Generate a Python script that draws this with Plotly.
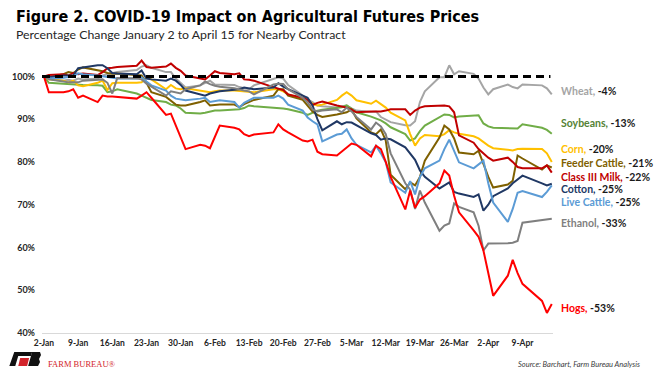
import plotly.graph_objects as go

# ---------------- data ----------------
dates = [
    "2020-01-02", "2020-01-03", "2020-01-06", "2020-01-07", "2020-01-08", "2020-01-09", "2020-01-10",
    "2020-01-13", "2020-01-14", "2020-01-15", "2020-01-16", "2020-01-17", "2020-01-21", "2020-01-22",
    "2020-01-23", "2020-01-24", "2020-01-27", "2020-01-28", "2020-01-29", "2020-01-30", "2020-01-31",
    "2020-02-03", "2020-02-04", "2020-02-05", "2020-02-06", "2020-02-07", "2020-02-10", "2020-02-11",
    "2020-02-12", "2020-02-13", "2020-02-14", "2020-02-18", "2020-02-19", "2020-02-20", "2020-02-21",
    "2020-02-24", "2020-02-25", "2020-02-26", "2020-02-27", "2020-02-28",
    "2020-03-02", "2020-03-03", "2020-03-04", "2020-03-05", "2020-03-06", "2020-03-09", "2020-03-10",
    "2020-03-11", "2020-03-12", "2020-03-13", "2020-03-16", "2020-03-17", "2020-03-18", "2020-03-19",
    "2020-03-20", "2020-03-23", "2020-03-24", "2020-03-25", "2020-03-26", "2020-03-27", "2020-03-30",
    "2020-03-31",
    "2020-04-01", "2020-04-02", "2020-04-03", "2020-04-06", "2020-04-07", "2020-04-08", "2020-04-09",
    "2020-04-13", "2020-04-14", "2020-04-15",
]

wheat = [100, 99.5, 99, 99.2, 99, 99.5, 99.3, 99.5, 100.2, 100.5, 100.8, 101, 101.5, 102.3, 102.6, 102, 101, 101, 99.5, 98.5, 97.4,
         97.9, 98.5, 99, 98.1, 98.1, 98, 97.5, 97.2, 97, 97.9, 99.3, 99.8, 99.5, 98, 95.5, 94.6, 94, 93.2, 93,
         92.7, 93, 93.2, 92.5, 92, 91.7, 91.8, 90.5, 89.8, 89.3, 88.6, 88.5, 89.5, 94, 96.5, 99.8, 99.8, 102.6, 100.5, 101.2, 100.6, 99.5,
         97.4, 95.8, 97, 98.1, 97.5, 97.2, 98.1, 97.9, 97.2, 95.8]

soybeans = [100, 98.5, 98.3, 98.2, 98.1, 98.1, 98, 97.9, 97.8, 96.3, 96.5, 97, 96, 95.5, 95, 94.5, 94, 93.4, 93.2, 92.5, 91.5,
            91.3, 91.5, 91.8, 92, 92, 92.2, 92.3, 92.6, 93.2, 93, 92.7, 92.7, 92.5, 92.3, 91.5, 91, 91.5, 92, 92.2,
            92.7, 92.8, 93.2, 92.5, 91.6, 90.6, 90.2, 89.7, 89, 88.1, 86.5, 85, 85.5, 87.2, 88.5, 90.4, 91.1, 91, 90.4, 90.6, 90.9, 90.9,
            89, 88.3, 88, 87.9, 87.8, 87.8, 88.8, 88, 87.5, 86.6]

corn = [100, 99.3, 99, 98.6, 99, 97.9, 97.7, 98.5, 99, 96.8, 98.4, 98.5, 98.5, 98.6, 99.8, 99.3, 97, 98, 97.2, 97, 97.2,
        96.7, 96.5, 96.3, 96.5, 96.7, 96.7, 96.6, 96.5, 96.4, 96.3, 97, 97, 96.5, 95.8, 94.8, 94.5, 93.6, 93.2, 93.4,
        94.5, 95.5, 96.3, 95.5, 94.4, 93.6, 94.3, 93.5, 92.7, 91.5, 89.7, 86.5, 83.8, 85.5, 86.3, 86, 86.5, 87.4, 86.9, 86.6, 86, 85.5,
        84.6, 83.8, 83.2, 82.7, 82.7, 83, 83.1, 83, 82, 80]

feeder_cattle = [100, 99.8, 100.5, 101, 100.8, 101.6, 102.1, 101.5, 101.2, 100.8, 100.6, 100.7, 100.2, 100.2, 98.5, 96.3, 95.2, 94.2, 93.4, 93.2, 93.2,
                 94, 94.4, 93.2, 93.3, 93.4, 93.4, 92.8, 93.5, 94, 94.5, 95.5, 97, 97, 95.5, 94.5, 93.2, 91.8, 91, 90.5,
                 91.1, 91.4, 91.6, 92.3, 90.2, 86.9, 86.5, 87.6, 85, 77, 73.6, 75.2, 74.5, 76.5, 80.3, 85.7, 88.5, 87.6, 85.5, 82.2, 81.8, 82.6,
                 79.5, 76.5, 74, 74.7, 75.6, 81.5, 80.8, 78.2, 79.2, 78.7]

class3_milk = [100, 100.3, 100.5, 100.2, 100.8, 100.5, 100.7, 100.3, 101, 101.9, 102, 102.2, 102.5, 103.7, 102.2, 102, 102.3, 103, 102, 101.3, 100.2,
               99.5, 99.3, 100.2, 101.2, 100.8, 100.5, 100.7, 99.3, 99.2, 99, 97.5, 97.2, 96.8, 95.8, 95, 94.5, 93.3, 93.8, 94.1,
               93.2, 93, 92.7, 92.2, 91.6, 91.8, 91.8, 91.8, 92, 92.3, 92.3, 91, 92, 92.7, 93, 93.2, 93.2, 93, 91.6, 86.2, 84.5, 83,
               82, 81, 80.3, 81, 80, 78.8, 78.5, 78.5, 79.2, 77.5]

cotton = [100, 99.8, 100.2, 100.2, 100.2, 101.9, 102.1, 102.6, 102.6, 101.9, 100.8, 100.7, 100.5, 101.4, 99.5, 99.3, 99, 99.5, 99, 98, 96.7,
          95.8, 95.5, 96, 96.3, 96.5, 96.9, 97, 97.4, 97.2, 97, 97.4, 98.4, 97.6, 97, 95.5, 95, 93.2, 90, 87.4,
          89.5, 88.8, 89.3, 89.2, 88.6, 86.7, 86.3, 85.2, 85.5, 85.3, 83.4, 82, 80.5, 78, 76.5, 73.8, 74.5, 75.2, 73, 72.6, 71.8, 72.4,
          68.6, 70, 72, 73.8, 75, 75.8, 76.8, 75, 74.5, 74.9]

live_cattle = [100, 99.5, 99.7, 99.8, 100, 100.7, 100.5, 100.2, 100, 99.8, 99.6, 99.5, 99.5, 99.8, 98.8, 97.9, 96.7, 95.5, 94.8, 94.6, 94.4,
               94.8, 95, 94, 94.2, 94.4, 94, 92.7, 93.8, 94.4, 95, 95, 95.5, 94.8, 93.4, 92, 90.4, 89.5, 88.8, 84.8,
               86.4, 86.6, 87.6, 85.5, 84, 82.2, 83.8, 82, 79.9, 75.2, 72.8, 75.5, 72.4, 76.5, 78.5, 80.3, 83, 85.2, 82.5, 79.9, 78.5, 79.5,
               80.3, 75, 70.5, 66, 69, 72.8, 73.2, 71.8, 73, 74.5]

ethanol = [100, 99.3, 98.8, 98.6, 98.6, 98.6, 99, 99.3, 99.3, 98.5, 96, 99.6, 99.5, 99.3, 98.3, 97.6, 95.5, 96.5, 96.3, 96, 97,
           97.9, 98.8, 98.2, 97.8, 97.6, 97.2, 96.9, 96.7, 96.5, 95.8, 98.1, 98.3, 98.2, 97, 95, 93.9, 92.3, 91.8, 92,
           92.3, 91.6, 92.7, 91.8, 90.5, 87.6, 89.2, 88.3, 86.5, 82, 75, 73.5, 69, 73.3, 70.5, 63.9, 65.1, 65.6, 70.3, 69.5, 68.2, 65.1,
           59.3, 60.9, 60.9, 61, 61.1, 61.5, 65.8, 66.3, 66.5, 66.7]

hogs = [100, 96.3, 96.3, 96.5, 97, 95, 95.5, 94, 95.5, 95.3, 95.3, 95.2, 94.8, 95.5, 96.3, 95, 91, 91.3, 88.5, 85.5, 83,
        84, 83.8, 83.2, 86, 88.5, 88, 87.6, 86.5, 86, 86.4, 86.9, 88.8, 87.6, 86.9, 85, 84.8, 85.2, 82.4, 81.8,
        81.5, 82.5, 83.4, 84.3, 84, 81.3, 83.8, 83, 80, 76.5, 68.9, 73.3, 69.3, 71.2, 72, 75, 78, 76.8, 72.1, 68.2, 64, 62.5,
        59.3, 54, 48.7, 53.4, 57.1, 54, 51.5, 47.5, 44.7, 46.8]

series_names = ["Wheat", "Soybeans", "Corn", "Feeder Cattle", "Class III Milk", "Cotton", "Live Cattle", "Ethanol", "Hogs"]
series_values = [wheat, soybeans, corn, feeder_cattle, class3_milk, cotton, live_cattle, ethanol, hogs]
series_changes = ["-4%", "-13%", "-20%", "-21%", "-22%", "-25%", "-25%", "-33%", "-53%"]

tick_dates = ["2020-01-02", "2020-01-09", "2020-01-16", "2020-01-23", "2020-01-30", "2020-02-06", "2020-02-13",
              "2020-02-20", "2020-02-27", "2020-03-05", "2020-03-12", "2020-03-19", "2020-03-26", "2020-04-02",
              "2020-04-09"]
tick_labels = ["2-Jan", "9-Jan", "16-Jan", "23-Jan", "30-Jan", "6-Feb", "13-Feb", "20-Feb", "27-Feb",
               "5-Mar", "12-Mar", "19-Mar", "26-Mar", "2-Apr", "9-Apr"]
y_ticks = [40, 50, 60, 70, 80, 90, 100]
y_labels = ["40%", "50%", "60%", "70%", "80%", "90%", "100%"]
baseline = 100

# ---------------- styles ----------------
line_colors = ["#A5A5A5", "#70AD47", "#FFC000", "#7F6000", "#C00000", "#203864", "#5B9BD5", "#7F7F7F", "#FF0000"]
label_colors = ["#A5A5A5", "#548235", "#FFC000", "#7F6000", "#C00000", "#203864", "#5B9BD5", "#7F7F7F", "#FF0000"]
label_y_px = [91, 123, 149, 163, 177, 188.5, 202, 223, 308]

W, H = 660, 369
ML, MR, MT, MB = 37, 107, 55, 36
PW, PH = W - ML - MR, H - MT - MB


def px_x(p):
    return (p - ML) / PW


def px_y(p):
    return (H - MB - p) / PH


fig = go.Figure()
for name, vals, col in zip(series_names, series_values, line_colors):
    fig.add_trace(go.Scatter(x=dates, y=vals, mode="lines", name=name,
                             line=dict(color=col, width=2), showlegend=False))

# dashed 100% reference line
fig.add_shape(type="line", xref="paper", yref="y", x0=0, x1=0.995, y0=baseline, y1=baseline,
              line=dict(color="black", width=3, dash="8px,5px"), layer="above")

# right-side labels
for name, chg, col, ypx in zip(series_names, series_changes, label_colors, label_y_px):
    fig.add_annotation(xref="paper", yref="paper", x=px_x(559), y=px_y(ypx), xanchor="left", yanchor="middle",
                       showarrow=False,
                       text=f"<span style='color:{col}'>{name},</span> {chg}",
                       font=dict(family="Lato, sans-serif", size=10.5, color="#1a1a1a", weight="bold"))

# title + subtitle
fig.add_annotation(xref="paper", yref="paper", x=px_x(9), y=px_y(17), xanchor="left", yanchor="middle",
                   showarrow=False, text="Figure 2. COVID-19 Impact on Agricultural Futures Prices",
                   font=dict(family="DejaVu Sans Condensed, DejaVu Sans, sans-serif", size=16,
                             color="black", weight="bold"))
fig.add_annotation(xref="paper", yref="paper", x=px_x(9), y=px_y(34.5), xanchor="left", yanchor="middle",
                   showarrow=False, text="Percentage Change January 2 to April 15 for Nearby Contract",
                   font=dict(family="Lato, sans-serif", size=12.3, color="#262626"))

# footer: source
fig.add_annotation(xref="paper", yref="paper", x=px_x(643), y=px_y(364), xanchor="right", yanchor="middle",
                   showarrow=False, text="<i>Source: Barchart, Farm Bureau Analysis</i>",
                   font=dict(family="Lato, sans-serif", size=7.5, color="#404040"))

# footer: Farm Bureau logo (simple shapes) + wordmark


def path(points):
    return "M " + " L ".join(f"{px_x(a):.5f},{px_y(b):.5f}" for a, b in points) + " Z"


fig.add_shape(type="path", xref="paper", yref="paper",
              path=path([(9, 352), (27, 352), (26, 356), (13, 356), (10, 366), (4, 366)]),
              fillcolor="#111111", line=dict(width=0))
fig.add_shape(type="path", xref="paper", yref="paper",
              path=path([(15, 358), (24, 358), (22, 366), (13, 366)]),
              fillcolor="#D2232A", line=dict(width=0))
fig.add_shape(type="path", xref="paper", yref="paper",
              path=path([(27, 352), (35, 352), (36, 355), (34, 359), (35, 362), (33, 366), (23, 366)]),
              fillcolor="#111111", line=dict(width=0))
fig.add_annotation(xref="paper", yref="paper", x=px_x(41), y=px_y(363.5), xanchor="left", yanchor="middle",
                   showarrow=False, text="FARM BUREAU®",
                   font=dict(family="Liberation Serif, serif", size=8.5, color="#D2232A"))

fig.update_layout(
    width=W, height=H,
    margin=dict(l=ML, r=MR, t=MT, b=MB),
    paper_bgcolor="white", plot_bgcolor="white",
    xaxis=dict(type="date", range=["2020-01-01 14:24", "2020-04-15 06:00"],
               tickvals=tick_dates, ticktext=tick_labels,
               tickfont=dict(family="Lato, sans-serif", size=8.5, color="#262626", weight="bold"),
               showgrid=False, zeroline=False, showline=True, linecolor="#D9D9D9", linewidth=1,
               ticks="", ticklabelstandoff=2),
    yaxis=dict(range=[40, 105], tickvals=y_ticks, ticktext=y_labels,
               tickfont=dict(family="Lato, sans-serif", size=9, color="#262626", weight="bold"),
               showgrid=False, zeroline=False, showline=False, ticks="", ticklabelstandoff=6),
)

fig.write_html("out.html", config={"displayModeBar": False},
               post_script="document.body.style.margin='0';")
